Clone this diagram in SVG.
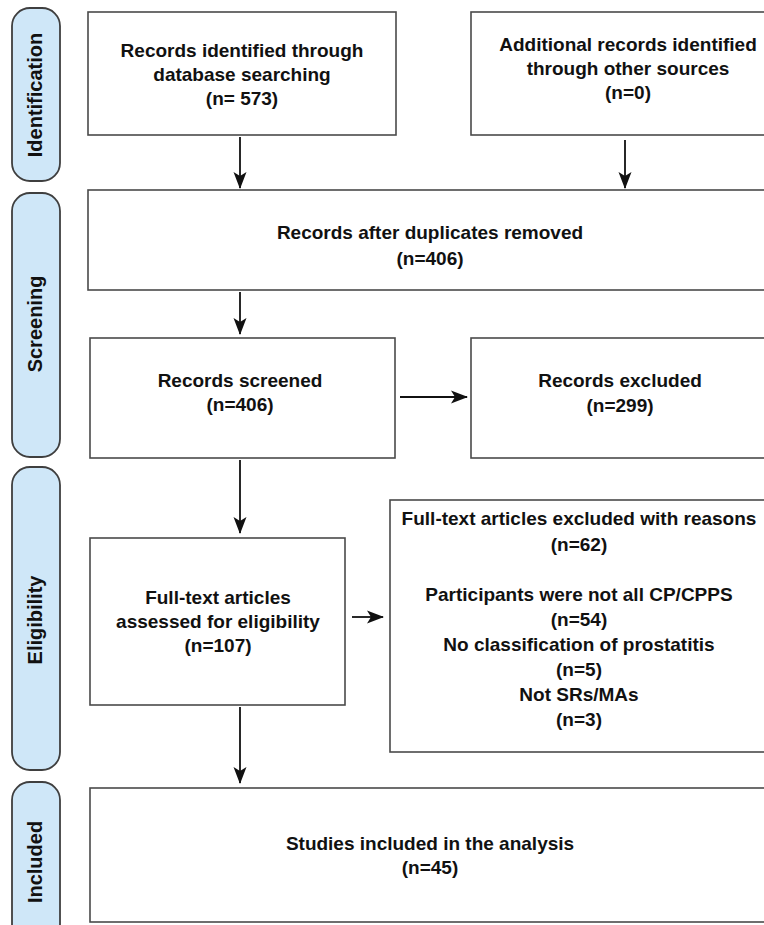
<svg xmlns="http://www.w3.org/2000/svg" width="764" height="925" viewBox="0 0 764 925">
<style>
.pill{fill:#cfe7f8;stroke:#3f3f3f;stroke-width:1.8}
.box{fill:#fff;stroke:#4a4a4a;stroke-width:1.6}
.t{font-family:"Liberation Sans",Arial,sans-serif;font-weight:bold;font-size:19px;fill:#111;text-anchor:middle}
.pl{font-family:"Liberation Sans",Arial,sans-serif;font-weight:bold;font-size:20px;fill:#111;text-anchor:middle}
.c{stroke:#111;stroke-width:1.8;fill:none;marker-end:url(#ah)}
</style>
<defs>
<marker id="ah" markerWidth="18" markerHeight="14" refX="16" refY="6.5" orient="auto" markerUnits="userSpaceOnUse" viewBox="0 0 18 13">
<path d="M0,0 L17,6.5 L0,13 L4,6.5 Z" fill="#111"/>
</marker>
</defs>
<rect width="764" height="925" fill="#fff"/>
<g id="phase-identification"><rect class="pill" x="12" y="8" width="48" height="173" rx="18"/><text class="pl" transform="translate(42,95) rotate(-90)">Identification</text></g>
<g id="phase-screening"><rect class="pill" x="12" y="193" width="48" height="264" rx="18"/><text class="pl" transform="translate(42,324) rotate(-90)">Screening</text></g>
<g id="phase-eligibility"><rect class="pill" x="12" y="467" width="48" height="303" rx="18"/><text class="pl" transform="translate(42,620) rotate(-90)">Eligibility</text></g>
<g id="phase-included"><rect class="pill" x="12" y="782" width="48" height="160" rx="18"/><text class="pl" transform="translate(42,862) rotate(-90)">Included</text></g>

<g id="n-db"><rect class="box" x="88" y="12" width="308" height="123"/>
<text class="t" x="242" y="57">Records identified through</text>
<text class="t" x="242" y="81">database searching</text>
<text class="t" x="242" y="105">(n= 573)</text></g>
<g id="n-other"><rect class="box" x="471" y="12" width="300" height="123"/>
<text class="t" x="628" y="51">Additional records identified</text>
<text class="t" x="628" y="75">through other sources</text>
<text class="t" x="628" y="99">(n=0)</text></g>
<g id="n-dup"><rect class="box" x="88" y="190" width="680" height="100"/>
<text class="t" x="430" y="239">Records after duplicates removed</text>
<text class="t" x="430" y="265">(n=406)</text></g>
<g id="n-screened"><rect class="box" x="90" y="338" width="305" height="120"/>
<text class="t" x="240" y="387">Records screened</text>
<text class="t" x="240" y="411">(n=406)</text></g>
<g id="n-excluded"><rect class="box" x="471" y="338" width="300" height="120"/>
<text class="t" x="620" y="387">Records excluded</text>
<text class="t" x="620" y="412">(n=299)</text></g>
<g id="n-fulltext"><rect class="box" x="90" y="538" width="255" height="167"/>
<text class="t" x="218" y="604">Full-text articles</text>
<text class="t" x="218" y="628">assessed for eligibility</text>
<text class="t" x="218" y="652">(n=107)</text></g>
<g id="n-ftexcl"><rect class="box" x="390" y="500" width="380" height="252"/>
<text class="t" x="579" y="525">Full-text articles excluded with reasons</text>
<text class="t" x="579" y="551">(n=62)</text>
<text class="t" x="579" y="601">Participants were not all CP/CPPS</text>
<text class="t" x="579" y="626">(n=54)</text>
<text class="t" x="579" y="651">No classification of prostatitis</text>
<text class="t" x="579" y="676">(n=5)</text>
<text class="t" x="579" y="701">Not SRs/MAs</text>
<text class="t" x="579" y="726">(n=3)</text></g>
<g id="n-included"><rect class="box" x="90" y="788" width="680" height="134"/>
<text class="t" x="430" y="850">Studies included in the analysis</text>
<text class="t" x="430" y="874">(n=45)</text></g>

<g id="connectors">
<line class="c" x1="240" y1="137" x2="240" y2="188"/>
<line class="c" x1="625" y1="140" x2="625" y2="188"/>
<line class="c" x1="240" y1="292" x2="240" y2="334"/>
<line class="c" x1="400" y1="397" x2="467" y2="397"/>
<line class="c" x1="240" y1="460" x2="240" y2="533"/>
<line class="c" x1="352" y1="617" x2="383" y2="617"/>
<line class="c" x1="240" y1="707" x2="240" y2="783"/>
</g>
</svg>
